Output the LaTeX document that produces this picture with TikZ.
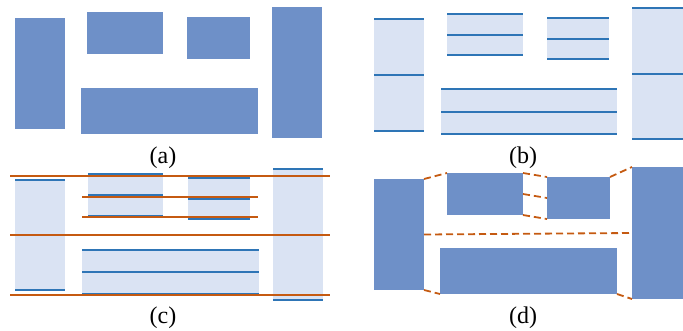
\documentclass[tikz,border=0pt]{standalone}
\usepackage{fontspec}
\setmainfont{Liberation Serif}
\usepackage{tikz}
\definecolor{blockblue}{HTML}{6E90C8}
\definecolor{paleblue}{HTML}{DAE3F3}
\definecolor{lineblue}{HTML}{2E75B6}
\definecolor{cutorange}{HTML}{C55A11}

\begin{document}
\begin{tikzpicture}[
  x=1pt, y=-1pt,
  solid/.style={rectangle, fill=blockblue, draw=none, inner sep=0pt, outer sep=0pt, anchor=north west},
  pale/.style={rectangle, fill=paleblue, draw=none, inner sep=0pt, outer sep=0pt, anchor=north west},
  level/.style={draw=lineblue, line width=2pt},
  cut/.style={draw=cutorange, line width=2pt},
  link/.style={draw=cutorange, line width=1.8pt, dash pattern=on 7pt off 4pt},
  caption/.style={font=\fontsize{24}{28}\selectfont, inner sep=0pt}
]
\useasboundingbox (0,0) rectangle (683,330);

% (a)
\node[solid, minimum width=50pt, minimum height=111pt] (a1) at (15,18) {};
\node[solid, minimum width=76pt, minimum height=42pt] (a2) at (87,12) {};
\node[solid, minimum width=63pt, minimum height=42pt] (a3) at (187,17) {};
\node[solid, minimum width=177pt, minimum height=46pt] (a4) at (81,88) {};
\node[solid, minimum width=50pt, minimum height=131pt] (a5) at (272,7) {};
\node[caption] (capa) at (163,157.5) {(a)};

% (b)
\node[pale, minimum width=50pt, minimum height=112pt] (b1) at (374,19) {};
\node[pale, minimum width=76pt, minimum height=41pt] (b2) at (447,14) {};
\node[pale, minimum width=62pt, minimum height=41pt] (b3) at (547,18) {};
\node[pale, minimum width=176pt, minimum height=45pt] (b4) at (441,89) {};
\node[pale, minimum width=51pt, minimum height=131pt] (b5) at (632,8) {};
\node[caption] (capb) at (523,157.5) {(b)};

% (c)
\node[pale, minimum width=50pt, minimum height=110pt] (c1) at (15,180) {};
\node[pale, minimum width=75pt, minimum height=42pt] (c2) at (88,174) {};
\node[pale, minimum width=62pt, minimum height=41pt] (c3) at (188,178) {};
\node[pale, minimum width=177pt, minimum height=44pt] (c4) at (82,250) {};
\node[pale, minimum width=50pt, minimum height=131pt] (c5) at (273,169) {};
\node[caption] (capc) at (163,318) {(c)};

\foreach \n in {b1,b2,b3,b4,b5,c1,c2,c3,c4,c5} {
  \draw[level] (\n.north west) -- (\n.north east);
  \draw[level] (\n.west) -- (\n.east);
  \draw[level] (\n.south west) -- (\n.south east);
}

\draw[cut] (10,176) -- (330,176);
\draw[cut] (82,197) -- (258,197);
\draw[cut] (82,217) -- (258,217);
\draw[cut, line width=2.4pt] (10,235) -- (330,235);
\draw[cut] (10,295) -- (330,295);

% (d)
\node[solid, minimum width=50pt, minimum height=111pt] (d1) at (374,179) {};
\node[solid, minimum width=76pt, minimum height=42pt] (d2) at (447,173) {};
\node[solid, minimum width=63pt, minimum height=42pt] (d3) at (547,177) {};
\node[solid, minimum width=177pt, minimum height=46pt] (d4) at (440,248) {};
\node[solid, minimum width=51pt, minimum height=132pt] (d5) at (632,167) {};
\node[caption] (capd) at (523,318) {(d)};

\draw[link] (d1.north east) -- (d2.north west);
\draw[link] (d2.north east) -- (d3.north west);
\draw[link] (d2.east) -- (d3.west);
\draw[link] (d2.south east) -- (d3.south west);
\draw[link] (d3.north east) -- (d5.north west);
\draw[link] (d1.east) -- (d5.west);
\draw[link] (d1.south east) -- (d4.south west);
\draw[link] (d4.south east) -- (d5.south west);

\end{tikzpicture}
\end{document}
